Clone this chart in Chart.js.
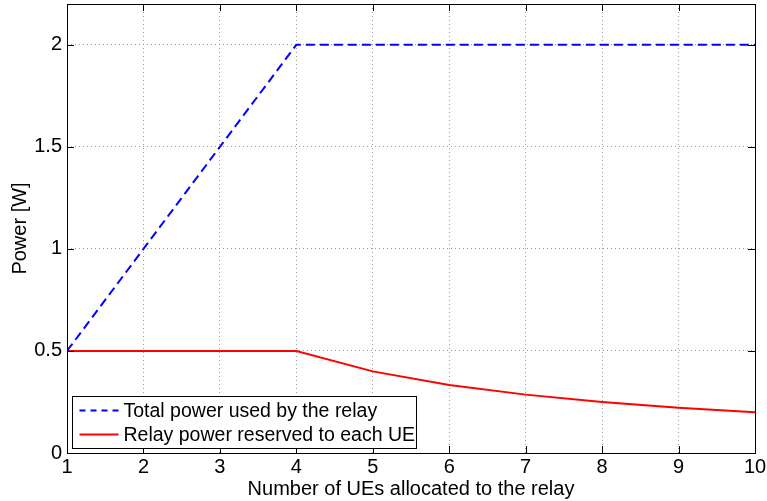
<!DOCTYPE html>
<html>
<head>
<meta charset="utf-8">
<script src="https://cdn.jsdelivr.net/npm/chart.js@4.4.0/dist/chart.umd.min.js"></script>
<style>
  html, body { margin: 0; padding: 0; background: #fff; }
  #wrap { width: 767px; height: 501px; }
</style>
</head>
<body>
<div id="wrap"><canvas id="chart" width="767" height="501"></canvas></div>
<script>
// data
var ues = [1, 2, 3, 4, 5, 6, 7, 8, 9, 10];
var totalPower = [0.5, 1.0, 1.5, 2.0, 2.0, 2.0, 2.0, 2.0, 2.0, 2.0];
var perUePower = [0.5, 0.5, 0.5, 0.5, 0.4, 0.333, 0.286, 0.25, 0.222, 0.2];
var yTicks = [0, 0.5, 1, 1.5, 2];
var xTicks = [1, 2, 3, 4, 5, 6, 7, 8, 9, 10];

var FONT = 'Liberation Sans, Arial, sans-serif';

// box, inward ticks and legend like matlab
var framePlugin = {
    id: 'frame',
    afterDraw: function(chart){
        var ctx = chart.ctx, a = chart.chartArea;
        var xs = chart.scales.x, ys = chart.scales.y;
        ctx.save();
        ctx.strokeStyle = '#000';
        ctx.lineWidth = 1;
        ctx.beginPath();
        xTicks.forEach(function(v){
            var px = Math.round(xs.getPixelForValue(v)) + 0.5;
            ctx.moveTo(px, a.bottom); ctx.lineTo(px, a.bottom - 7);
            ctx.moveTo(px, a.top); ctx.lineTo(px, a.top + 7);
        });
        yTicks.forEach(function(v){
            var py = Math.round(ys.getPixelForValue(v)) + 0.5;
            ctx.moveTo(a.left, py); ctx.lineTo(a.left + 7, py);
            ctx.moveTo(a.right, py); ctx.lineTo(a.right - 7, py);
        });
        ctx.stroke();
        ctx.strokeRect(Math.round(a.left) + 0.5, Math.round(a.top) + 0.5,
            Math.round(a.right - a.left), Math.round(a.bottom - a.top));

        // legend
        var lx = 72.5, ly = 396.5, lw = 344, lh = 52;
        ctx.fillStyle = '#fff';
        ctx.fillRect(lx, ly, lw, lh);
        ctx.strokeRect(lx, ly, lw, lh);
        ctx.font = '19.5px ' + FONT;
        ctx.textBaseline = 'middle';
        ctx.textAlign = 'left';
        chart.data.datasets.forEach(function(ds, i){
            var yy = ly + 14 + i * 24;
            ctx.strokeStyle = ds.borderColor;
            ctx.lineWidth = 2;
            ctx.setLineDash(i === 0 ? [6, 5] : []);
            ctx.beginPath();
            ctx.moveTo(lx + 7, yy); ctx.lineTo(lx + 46, yy);
            ctx.stroke();
            ctx.setLineDash([]);
            ctx.fillStyle = '#000';
            ctx.fillText(ds.label, lx + 51, yy + 1);
        });
        ctx.restore();
    }
};

new Chart(document.getElementById('chart').getContext('2d'), {
    type: 'line',
    data: {
        datasets: [{
            label: 'Total power used by the relay',
            data: ues.map(function(u, i){ return {x: u, y: totalPower[i]}; }),
            borderColor: '#0000ff',
            borderWidth: 2,
            borderDash: [9, 5],
            pointRadius: 0,
            tension: 0
        }, {
            label: 'Relay power reserved to each UE',
            data: ues.map(function(u, i){ return {x: u, y: perUePower[i]}; }),
            borderColor: '#ff0000',
            borderWidth: 2,
            pointRadius: 0,
            tension: 0
        }]
    },
    options: {
        responsive: false,
        animation: false,
        layout: { padding: { top: 4, right: 12, left: 0, bottom: 0 } },
        plugins: { legend: { display: false }, tooltip: { enabled: false } },
        scales: {
            x: {
                type: 'linear', min: 1, max: 10,
                afterBuildTicks: function(s){ s.ticks = xTicks.map(function(v){ return {value: v}; }); },
                afterFit: function(s){ s.height = 48; s.paddingLeft = 0; s.paddingRight = 0; },
                grid: { color: '#999', drawTicks: false },
                border: { display: false, dash: [1, 3] },
                ticks: { color: '#000', font: { family: FONT, size: 20 }, padding: 2, maxRotation: 0 },
                title: { display: true, text: 'Number of UEs allocated to the relay', color: '#000',
                         font: { family: FONT, size: 20 }, padding: { top: 0, bottom: 0 } }
            },
            y: {
                min: 0, max: 2.2,
                afterBuildTicks: function(s){ s.ticks = yTicks.map(function(v){ return {value: v}; }); },
                afterFit: function(s){ s.width = 67; s.paddingTop = 0; s.paddingBottom = 0; },
                grid: { color: '#999', drawTicks: false },
                border: { display: false, dash: [1, 3] },
                ticks: { color: '#000', font: { family: FONT, size: 20 }, padding: 5,
                         callback: function(v){ return String(v); } },
                title: { display: true, text: 'Power [W]', color: '#000',
                         font: { family: FONT, size: 20 }, padding: { top: 8, bottom: 0 } }
            }
        }
    },
    plugins: [framePlugin]
});
</script>
</body>
</html>
